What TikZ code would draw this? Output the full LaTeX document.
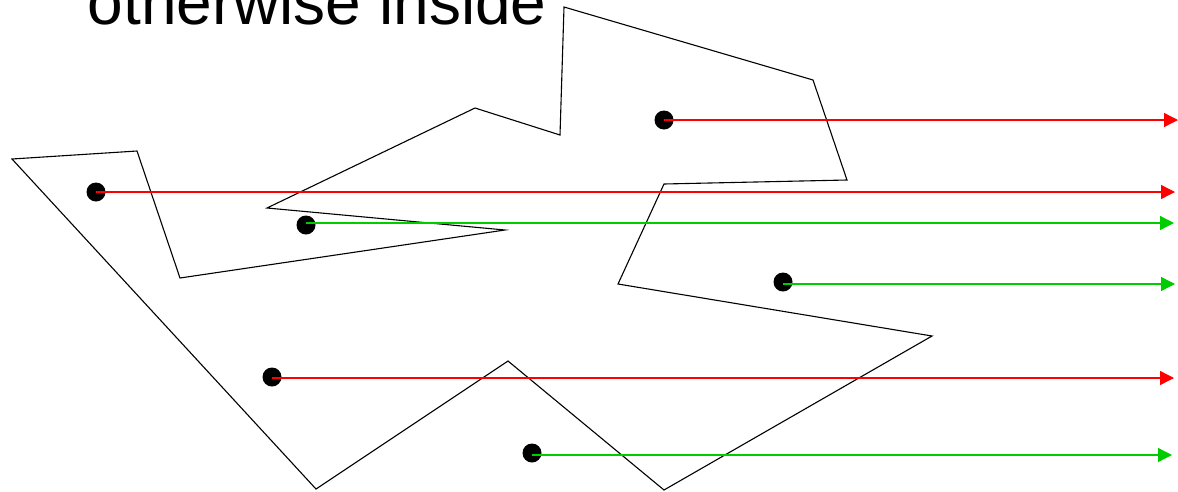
\documentclass[tikz,border=0pt]{standalone}
\usepackage{fontspec}
\setmainfont{Liberation Sans}
\usetikzlibrary{arrows.meta}
\definecolor{rayred}{RGB}{255,0,0}
\definecolor{raygreen}{RGB}{0,204,0}
\tikzset{
  probe/.style={circle,fill=black,inner sep=0pt,minimum size=19pt},
  outline/.style={draw=black,line width=1.1pt,line join=miter},
  ray/.style={line width=1.3pt,-{Triangle[length=14pt,width=14pt]}},
  outray/.style={ray,draw=rayred,fill=rayred},
  inray/.style={ray,draw=raygreen,fill=raygreen},
}
\begin{document}
\begin{tikzpicture}[x=1pt,y=-1pt]
\useasboundingbox (0,0) rectangle (1178,491);

% caption (partly above the frame)
\node[anchor=base west,inner sep=0pt,font=\fontsize{64}{64}\selectfont] (caption) at (87.5,24) {otherwise inside};

% the polygon under test
\draw[outline] (12,159) -- (137,151) -- (180,278) -- (505,230) -- (267,208)
  -- (475,108) -- (560,135) -- (564,7) -- (813,80) -- (847,180) -- (664,184)
  -- (618,284) -- (932,336) -- (664,490) -- (508,361) -- (316,489) -- cycle;

% test points
\node[probe] (d1) at (96,192) {};
\node[probe] (d2) at (306,225) {};
\node[probe] (d3) at (664,120) {};
\node[probe] (d4) at (783,282) {};
\node[probe] (d5) at (272,377) {};
\node[probe] (d6) at (532,453) {};

% ray ends
\coordinate (e1) at (1175,192);
\coordinate (e2) at (1174,223);
\coordinate (e3) at (1178,120);
\coordinate (e4) at (1175,284);
\coordinate (e5) at (1174,378);
\coordinate (e6) at (1172,455);

% rays cast to the right
\draw[outray] (d1.center) -- (e1);
\draw[inray] (d2 |- e2) -- (e2);
\draw[outray] (d3.center) -- (e3);
\draw[inray] (d4 |- e4) -- (e4);
\draw[outray] (d5 |- e5) -- (e5);
\draw[inray] (d6 |- e6) -- (e6);
\end{tikzpicture}
\end{document}
